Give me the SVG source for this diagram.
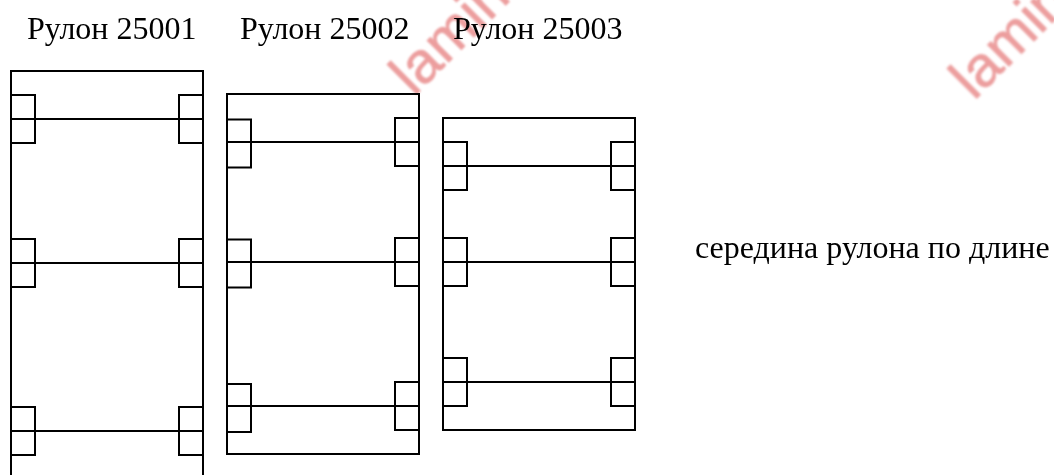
<svg xmlns="http://www.w3.org/2000/svg" width="1054" height="475" viewBox="0 0 1054 475">
<style>
.s{fill:none;stroke:#000;stroke-width:2}
.t{font-family:"Liberation Serif","Times New Roman",serif;font-size:32px;fill:#000}
.w{font-family:"Liberation Sans",Arial,sans-serif;font-size:58px;fill:#ec9e9e;stroke:#ec9e9e;stroke-width:.8}
</style>
<defs>
<filter id="soft" x="-10%" y="-10%" width="120%" height="120%"><feGaussianBlur stdDeviation="0.8"/></filter>
<path id="box" class="s" d="M0 -24H24V24H0"/>
<path id="boxr" class="s" d="M24 -24H0V24H24"/>
<path id="line" class="s" d="M0 0H192"/>
</defs>
<rect width="1054" height="475" fill="#fff"/>
<g id="watermark" filter="url(#soft)">
<text class="w" transform="translate(414 97) rotate(-45)">lamin</text>
<text class="w" transform="translate(974 101) rotate(-45)">lamin</text>
</g>
<g id="labels">
<text class="t" x="27" y="39">Рулон 25001</text>
<text class="t" x="240" y="39">Рулон 25002</text>
<text class="t" x="453" y="39">Рулон 25003</text>
<text class="t" x="695" y="258">середина рулона по длине</text>
</g>
<g id="roll-25001">
<path class="s" d="M11 480V71H203V480"/>
<use href="#box" x="11" y="119"/><use href="#boxr" x="179" y="119"/><use href="#line" x="11" y="119"/>
<use href="#box" x="11" y="263"/><use href="#boxr" x="179" y="263"/><use href="#line" x="11" y="263"/>
<use href="#box" x="11" y="431"/><use href="#boxr" x="179" y="431"/><use href="#line" x="11" y="431"/>
</g>
<g id="roll-25002">
<rect class="s" x="227" y="94" width="192" height="360"/>
<use href="#box" x="227" y="143.5"/><use href="#boxr" x="395" y="142"/><use href="#line" x="227" y="142"/>
<use href="#box" x="227" y="263.5"/><use href="#boxr" x="395" y="262"/><use href="#line" x="227" y="262"/>
<use href="#box" x="227" y="408"/><use href="#boxr" x="395" y="406"/><use href="#line" x="227" y="406"/>
</g>
<g id="roll-25003">
<rect class="s" x="443" y="118" width="192" height="312"/>
<use href="#box" x="443" y="166"/><use href="#boxr" x="611" y="166"/><use href="#line" x="443" y="166"/>
<use href="#box" x="443" y="262"/><use href="#boxr" x="611" y="262"/><use href="#line" x="443" y="262"/>
<use href="#box" x="443" y="382"/><use href="#boxr" x="611" y="382"/><use href="#line" x="443" y="382"/>
</g>
</svg>
